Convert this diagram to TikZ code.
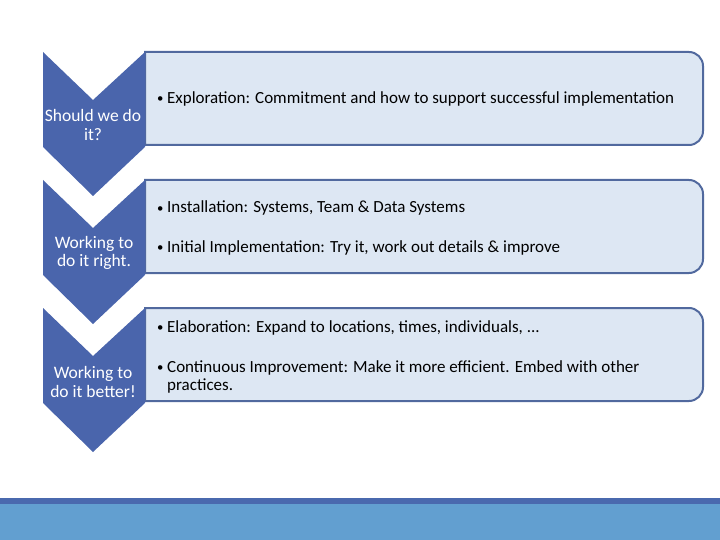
\documentclass[tikz,border=0pt]{standalone}
\usepackage{fontspec}
\usepackage{graphicx}
\setmainfont{Carlito}
\definecolor{chev}{HTML}{4A65AC}
\definecolor{boxfill}{HTML}{DDE7F3}
\definecolor{boxline}{HTML}{51699E}
\definecolor{banddark}{HTML}{4A69AE}
\definecolor{bandlight}{HTML}{629FD0}
\newcommand{\itembul}{\makebox[10pt][l]{\raisebox{1pt}{\scalebox{0.75}{•}}}}
\tikzset{
  chevshape/.style={fill=chev, draw=none},
  boxshape/.style={fill=boxfill, draw=boxline, line width=2pt},
  chevtext/.style={text=white, align=center, font=\fontsize{17.5}{18.5}\selectfont, inner sep=0pt},
  itemtext/.style={anchor=base west, font=\fontsize{17}{20}\selectfont, inner sep=0pt}
}
\begin{document}
\begin{tikzpicture}[x=1pt,y=-1pt]
\useasboundingbox (0,0) rectangle (720,540);
% bottom band
\fill[bandlight] (0,504) rectangle (720,540);
\fill[banddark] (0,498) rectangle (720,504);
% boxes
\foreach \t/\b in {52/145,180/273,308/401}{
  \path[boxshape] (145,\t) -- (689,\t) arc[start angle=-90,end angle=0,radius=14]
    -- (703,\b-14) arc[start angle=0,end angle=90,radius=14] -- (145,\b) -- cycle;
}
% chevrons
\foreach \t in {52,180,308}{
  \fill[chevshape] (43,\t) -- (93,\t+48) -- (145,\t) -- (145,\t+95) -- (93,\t+144) -- (43,\t+95) -- cycle;
}
% chevron labels
\node[chevtext] (c1) at (93,125) {Should we do\\it?};
\node[chevtext] (c2) at (94,253) {Working to\\do it right.};
\node[chevtext] (c3) at (93,382) {Working to\\do it better!};
% items
\node[itemtext] (i1) at (157,104) {\itembul Exploration: Commitment and how to support successful implementation};
\node[itemtext] (i2) at (157,213) {\itembul Installation: Systems, Team \& Data Systems};
\node[itemtext] (i3) at (157,252) {\itembul Initial Implementation: Try it, work out details \& improve};
\node[itemtext] (i4) at (157,332) {\itembul Elaboration: Expand to locations, times, individuals, ...};
\node[itemtext] (i5) at (157,372) {\itembul Continuous Improvement: Make it more efficient. Embed with other};
\node[itemtext] (i6) at (167,390) {practices.};
\end{tikzpicture}
\end{document}
